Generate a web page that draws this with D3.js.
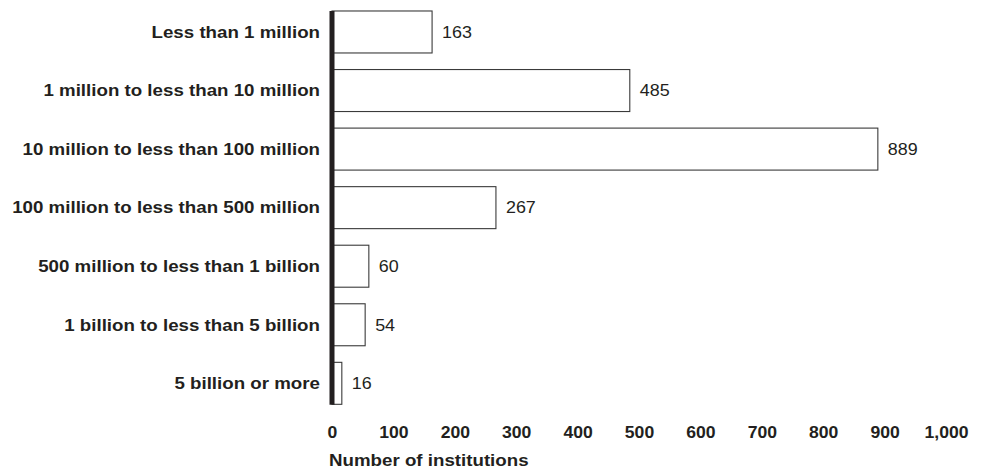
<!DOCTYPE html>
<html>
<head>
<meta charset="utf-8">
<script src="https://cdn.jsdelivr.net/npm/d3@7"></script>
<style>
  html, body { margin: 0; padding: 0; background: #fff; }
  svg { display: block; }
  text { font-family: "Liberation Sans", Arial, Helvetica, sans-serif; fill: #231f20; }
</style>
</head>
<body>
<svg id="chart" width="982" height="471"></svg>
<script>
// Institutions by asset size
const categories = [
  "Less than 1 million",
  "1 million to less than 10 million",
  "10 million to less than 100 million",
  "100 million to less than 500 million",
  "500 million to less than 1 billion",
  "1 billion to less than 5 billion",
  "5 billion or more"
];
const counts = [163, 485, 889, 267, 60, 54, 16];
const tickValues = [0, 100, 200, 300, 400, 500, 600, 700, 800, 900, 1000];
const axisTitle = "Number of institutions";

const svg = d3.select("#chart");
const ink = "#231f20";
const stretch = 1.17;      // slightly wide lettering
const fontSize = 16;

const x = d3.scaleLinear().domain([0, 1000]).range([332, 946]);
const y = d3.scaleBand()
  .domain(categories)
  .range([2.7, 412.6])
  .paddingInner(0.283)
  .paddingOuter(0.1415);

// Bars
svg.append("g")
  .selectAll("rect")
  .data(categories)
  .join("rect")
  .attr("x", x(0))
  .attr("y", d => y(d))
  .attr("width", (d, i) => x(counts[i]) - x(0))
  .attr("height", y.bandwidth())
  .attr("fill", "#fff")
  .attr("stroke", "#3a3a3a")
  .attr("stroke-width", 1.1);

// Value labels
svg.append("g")
  .selectAll("text")
  .data(categories)
  .join("text")
  .attr("transform", (d, i) => `translate(${x(counts[i]) + 10},${y(d) + y.bandwidth() / 2}) scale(1.12,1)`)
  .attr("dy", "0.36em")
  .style("font-size", fontSize + "px")
  .text((d, i) => counts[i]);

// Category labels
svg.append("g")
  .selectAll("text")
  .data(categories)
  .join("text")
  .attr("transform", d => `translate(320,${y(d) + y.bandwidth() / 2}) scale(${stretch},1)`)
  .attr("dy", "0.36em")
  .attr("text-anchor", "end")
  .style("font-size", fontSize + "px")
  .style("font-weight", "bold")
  .text(d => d);

// Heavy vertical baseline
svg.append("line")
  .attr("x1", x(0)).attr("x2", x(0))
  .attr("y1", y(categories[0]))
  .attr("y2", y(categories[categories.length - 1]) + y.bandwidth() + 0.5)
  .attr("stroke", ink)
  .attr("stroke-width", 5);

// Tick labels along the bottom (no axis line)
const axisG = svg.append("g")
  .attr("transform", "translate(0,438)")
  .call(d3.axisBottom(x).tickValues(tickValues).tickSize(0).tickPadding(0).tickFormat(d3.format(",")));
axisG.select(".domain").remove();
axisG.selectAll(".tick text")
  .attr("x", 0)
  .attr("y", 0)
  .attr("dy", 0)
  .attr("transform", "scale(1.1,1)")
  .style("font-size", fontSize + "px")
  .style("font-weight", "bold")
  .style("font-family", '"Liberation Sans", Arial, Helvetica, sans-serif')
  .attr("fill", ink);

// Axis title
svg.append("text")
  .attr("transform", `translate(${x(0) - 3},466) scale(${stretch},1)`)
  .style("font-size", fontSize + "px")
  .style("font-weight", "bold")
  .text(axisTitle);
</script>
</body>
</html>
